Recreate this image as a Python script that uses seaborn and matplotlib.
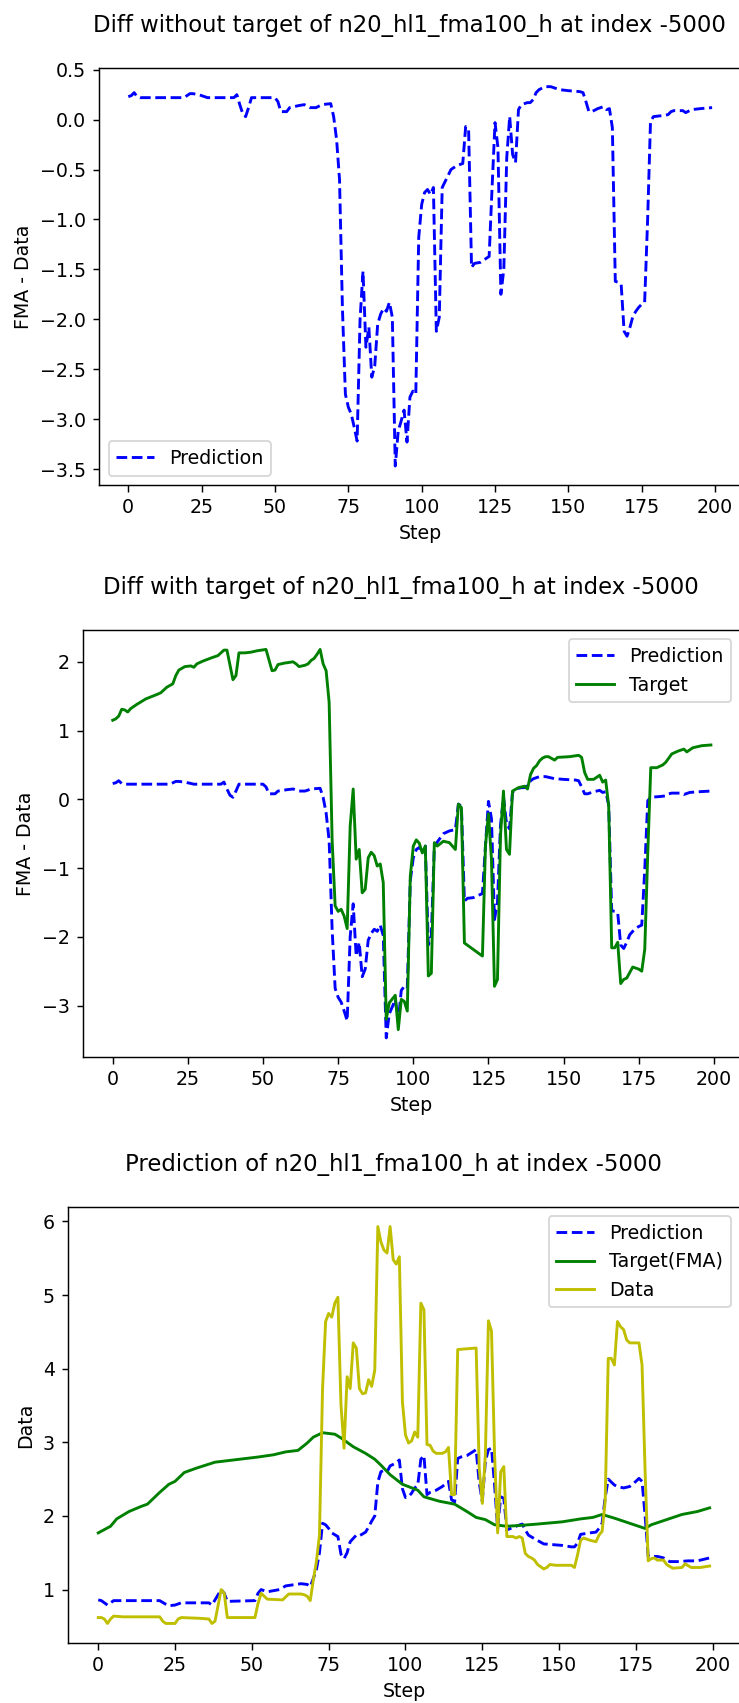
import matplotlib
matplotlib.use("Agg")
import matplotlib.pyplot as plt
import seaborn as sns
import numpy as np

# ---------------- data ----------------
pred_diff_steps = [0, 1, 2, 3, 4, 19, 21, 22, 24, 26, 27, 36, 37, 38, 39, 40, 41, 42, 50, 51,
                   52, 54, 55, 58, 60, 62, 64, 66, 69, 70, 71, 72, 73, 74, 75, 76, 77, 78, 79, 80,
                   81, 82, 83, 84, 85, 86, 87, 88, 89, 90, 91, 92, 93, 94, 95, 96, 97, 98, 99, 100,
                   101, 102, 103, 104, 105, 106, 107, 108, 110, 112, 114, 115, 116, 117, 118, 120, 123, 124, 125, 126,
                   127, 128, 129, 130, 131, 132, 133, 134, 136, 137, 138, 139, 140, 142, 144, 145, 147, 150, 154, 155,
                   156, 157, 158, 160, 162, 163, 164, 165, 166, 167, 168, 169, 170, 171, 172, 173, 174, 175, 176, 177,
                   178, 179, 182, 184, 185, 186, 189, 190, 192, 195, 199]
pred_diff_vals = [0.23, 0.24, 0.27, 0.23, 0.22, 0.22, 0.26, 0.26, 0.25, 0.23, 0.22, 0.22, 0.25, 0.15, 0.06, 0.03, 0.12, 0.22, 0.22, 0.18,
                  0.08, 0.08, 0.12, 0.14, 0.15, 0.12, 0.12, 0.15, 0.16, 0.03, -0.20, -0.60, -1.90, -2.75, -2.88, -2.95, -3.08, -3.22, -2.00, -1.52,
                  -2.28, -2.08, -2.58, -2.47, -2.05, -1.95, -1.89, -1.92, -1.83, -1.98, -3.47, -3.12, -3.02, -2.91, -3.23, -2.78, -2.72, -2.75, -1.18, -0.85,
                  -0.73, -0.70, -0.75, -0.68, -2.12, -1.98, -0.68, -0.62, -0.50, -0.46, -0.44, -0.07, -0.10, -1.48, -1.44, -1.43, -1.37, -0.68, -0.03, -0.28,
                  -1.75, -1.50, -0.38, 0.03, -0.35, -0.43, 0.10, 0.15, 0.17, 0.17, 0.20, 0.27, 0.30, 0.33, 0.33, 0.32, 0.30, 0.29, 0.28, 0.27,
                  0.18, 0.08, 0.08, 0.11, 0.13, 0.10, 0.11, -0.08, -1.62, -1.63, -1.65, -2.12, -2.17, -2.08, -1.97, -1.92, -1.88, -1.85, -1.83, -1.02,
                  -0.02, 0.03, 0.04, 0.05, 0.08, 0.09, 0.09, 0.07, 0.10, 0.11, 0.12]

target_diff_steps = [0, 1, 2, 3, 4, 5, 6, 8, 11, 15, 16, 18, 20, 21, 22, 24, 26, 27, 28, 30,
                     33, 35, 36, 37, 38, 40, 41, 42, 44, 46, 48, 51, 53, 54, 55, 57, 60, 61, 62, 64,
                     65, 66, 67, 68, 69, 70, 71, 72, 73, 74, 75, 76, 77, 78, 79, 80, 81, 82, 83, 84,
                     85, 86, 87, 88, 89, 90, 91, 92, 94, 95, 96, 97, 98, 99, 100, 101, 102, 103, 104, 105,
                     106, 107, 108, 110, 112, 114, 115, 116, 117, 123, 124, 125, 126, 127, 128, 129, 130, 131, 132, 133,
                     135, 137, 138, 139, 140, 141, 142, 143, 144, 145, 147, 148, 152, 155, 156, 157, 158, 160, 162, 163,
                     164, 165, 166, 167, 168, 169, 170, 171, 173, 175, 176, 177, 178, 179, 181, 183, 184, 186, 188, 190,
                     191, 193, 196, 199]
target_diff_vals = [1.15, 1.17, 1.21, 1.31, 1.30, 1.27, 1.32, 1.38, 1.46, 1.53, 1.55, 1.63, 1.68, 1.80, 1.88, 1.93, 1.94, 1.92, 1.97, 2.01,
                    2.06, 2.09, 2.13, 2.17, 2.17, 1.74, 1.80, 2.13, 2.13, 2.14, 2.16, 2.18, 1.87, 1.88, 1.96, 1.98, 2.00, 1.97, 1.93, 1.95,
                    1.97, 2.02, 2.05, 2.11, 2.18, 1.97, 1.87, 1.41, -0.60, -1.55, -1.63, -1.60, -1.70, -1.88, -0.39, 0.15, -0.87, -0.73, -1.36, -1.31,
                    -0.85, -0.77, -0.82, -0.97, -0.94, -1.21, -3.20, -2.96, -2.85, -3.35, -2.91, -2.94, -3.08, -1.12, -0.68, -0.59, -0.64, -0.78, -0.68, -2.57,
                    -2.53, -0.63, -0.68, -0.61, -0.63, -0.73, -0.07, -0.12, -2.09, -2.28, -0.68, -0.21, -0.87, -2.72, -2.62, -0.53, 0.12, -0.73, -0.80, 0.12,
                    0.17, 0.19, 0.15, 0.36, 0.45, 0.49, 0.56, 0.60, 0.62, 0.62, 0.57, 0.61, 0.62, 0.64, 0.61, 0.39, 0.29, 0.29, 0.35, 0.25,
                    0.28, -0.10, -2.16, -2.16, -2.08, -2.68, -2.62, -2.60, -2.44, -2.47, -2.50, -2.18, -0.78, 0.46, 0.46, 0.50, 0.54, 0.66, 0.70, 0.73,
                    0.69, 0.75, 0.78, 0.79]

data_steps = [0, 1, 2, 3, 4, 5, 8, 20, 21, 22, 25, 26, 27, 33, 36, 37, 38, 40, 41, 42,
              51, 52, 53, 55, 60, 62, 66, 67, 68, 69, 70, 71, 72, 73, 74, 75, 76, 77, 78, 79,
              80, 81, 82, 83, 84, 85, 86, 87, 88, 89, 90, 91, 92, 93, 94, 95, 96, 97, 98, 99,
              100, 101, 102, 103, 104, 105, 106, 107, 108, 109, 110, 112, 113, 114, 115, 116, 117, 120, 123, 124,
              125, 126, 127, 128, 129, 130, 131, 132, 133, 135, 136, 137, 138, 139, 140, 141, 142, 143, 144, 145,
              146, 147, 149, 154, 155, 156, 157, 158, 160, 162, 163, 164, 165, 166, 167, 168, 169, 170, 171, 172,
              173, 176, 177, 178, 179, 180, 181, 182, 184, 185, 187, 190, 191, 193, 196, 199]
data_vals = [0.62, 0.62, 0.60, 0.54, 0.60, 0.64, 0.63, 0.63, 0.57, 0.54, 0.54, 0.60, 0.62, 0.61, 0.60, 0.54, 0.57, 1.00, 0.95, 0.62,
             0.62, 0.81, 0.95, 0.87, 0.86, 0.94, 0.94, 0.93, 0.91, 0.85, 1.13, 1.38, 1.74, 3.73, 4.64, 4.75, 4.70, 4.89, 4.97, 3.51,
             2.92, 3.89, 3.73, 4.35, 4.28, 3.73, 3.66, 3.67, 3.85, 3.76, 3.98, 5.93, 5.72, 5.61, 5.57, 5.93, 5.48, 5.42, 5.52, 3.55,
             3.10, 2.99, 3.02, 3.14, 3.07, 4.89, 4.80, 2.97, 2.96, 2.88, 2.85, 2.85, 2.87, 2.93, 2.29, 2.29, 4.26, 4.27, 4.28, 2.65,
             2.17, 2.83, 4.65, 4.51, 2.83, 1.77, 2.60, 2.67, 1.72, 1.72, 1.70, 1.72, 1.70, 1.49, 1.45, 1.43, 1.40, 1.34, 1.31, 1.28,
             1.30, 1.34, 1.33, 1.33, 1.30, 1.47, 1.67, 1.70, 1.67, 1.65, 1.74, 1.79, 2.20, 4.14, 4.14, 4.05, 4.64, 4.57, 4.53, 4.39,
             4.35, 4.35, 4.05, 2.60, 1.39, 1.42, 1.43, 1.40, 1.40, 1.34, 1.29, 1.30, 1.35, 1.30, 1.30, 1.32]

fma_steps = [0, 4, 6, 10, 14, 16, 20, 23, 25, 28, 32, 38, 46, 52, 57, 61, 65, 68, 70, 73,
             77, 79, 83, 87, 90, 92, 95, 99, 104, 106, 111, 116, 120, 123, 126, 129, 133, 137, 143, 151,
             157, 161, 164, 168, 173, 178, 180, 185, 190, 195, 199]
fma_vals = [1.77, 1.86, 1.96, 2.06, 2.13, 2.16, 2.32, 2.43, 2.47, 2.59, 2.65, 2.73, 2.77, 2.80, 2.83, 2.87, 2.89, 2.99, 3.07, 3.13,
            3.11, 3.06, 2.94, 2.85, 2.77, 2.69, 2.56, 2.43, 2.35, 2.26, 2.20, 2.16, 2.06, 1.98, 1.95, 1.88, 1.86, 1.87, 1.89, 1.92,
            1.96, 1.98, 2.02, 1.97, 1.90, 1.83, 1.88, 1.95, 2.02, 2.06, 2.11]

pred_steps = [0, 1, 2, 3, 5, 20, 22, 23, 25, 27, 36, 37, 38, 40, 41, 42, 51, 52, 53, 55,
              59, 61, 66, 68, 69, 70, 71, 72, 73, 74, 75, 76, 78, 79, 80, 81, 82, 84, 85, 87,
              88, 89, 90, 91, 92, 93, 94, 95, 96, 97, 98, 99, 100, 101, 102, 103, 104, 105, 106, 107,
              108, 110, 112, 114, 115, 116, 117, 118, 120, 123, 124, 125, 126, 127, 128, 129, 130, 131, 132, 133,
              136, 138, 139, 140, 142, 145, 148, 151, 154, 155, 156, 157, 160, 162, 163, 164, 165, 166, 168, 169,
              171, 173, 175, 176, 177, 178, 179, 182, 184, 186, 189, 192, 195, 199]
pred_vals = [0.86, 0.85, 0.82, 0.79, 0.85, 0.85, 0.80, 0.78, 0.79, 0.82, 0.82, 0.79, 0.86, 1.00, 0.95, 0.84, 0.85, 0.95, 1.00, 0.97,
             1.00, 1.05, 1.08, 1.07, 1.04, 1.15, 1.27, 1.50, 1.90, 1.88, 1.83, 1.77, 1.72, 1.48, 1.42, 1.50, 1.65, 1.74, 1.73, 1.78,
             1.85, 1.93, 2.00, 2.46, 2.60, 2.62, 2.60, 2.68, 2.70, 2.72, 2.76, 2.37, 2.25, 2.26, 2.31, 2.38, 2.42, 2.77, 2.82, 2.29,
             2.32, 2.35, 2.40, 2.47, 2.22, 2.19, 2.78, 2.80, 2.82, 2.90, 2.45, 2.20, 2.74, 2.90, 2.92, 2.42, 1.83, 2.26, 2.24, 1.81,
             1.86, 1.89, 1.81, 1.74, 1.69, 1.62, 1.61, 1.60, 1.58, 1.58, 1.63, 1.75, 1.77, 1.78, 1.83, 1.90, 2.25, 2.50, 2.42, 2.40,
             2.38, 2.40, 2.47, 2.51, 2.47, 2.00, 1.45, 1.45, 1.43, 1.38, 1.38, 1.39, 1.39, 1.43]

name = "n20_hl1_fma100_h"
idx = -5000
titles = [f"Diff without target of {name} at index {idx}",
          f"Diff with target of {name} at index {idx}",
          f"Prediction of {name} at index {idx}"]

# ---------------- style ----------------
plt.rcParams["font.size"] = 10.5
plt.rcParams["lines.linewidth"] = 1.6
plt.rcParams["xtick.major.size"] = 3.6
plt.rcParams["ytick.major.size"] = 3.6

# ---------------- figure ----------------
W, H, DPI = 739, 1703, 130
fig = plt.figure(figsize=(W / DPI, H / DPI), dpi=DPI)


def add_ax(left, right, top, bottom):
    return fig.add_axes([left / W, 1 - bottom / H, (right - left) / W, (bottom - top) / H])


ax1 = add_ax(99.1, 741.3, 67.7, 485.0)
ax2 = add_ax(82.8, 740.8, 630.0, 1057.3)
ax3 = add_ax(67.7, 740.2, 1206.7, 1643.3)

TITLE_PAD = 20

# Panel 1
sns.lineplot(x=pred_diff_steps, y=pred_diff_vals, ax=ax1, color="b", linestyle="--", label="Prediction")
ax1.set_title(titles[0], x=0.484, pad=TITLE_PAD)
ax1.set_xlabel("Step")
ax1.set_ylabel("FMA - Data")
ax1.legend(loc="lower left")

# Panel 2
sns.lineplot(x=pred_diff_steps, y=pred_diff_vals, ax=ax2, color="b", linestyle="--", label="Prediction")
sns.lineplot(x=target_diff_steps, y=target_diff_vals, ax=ax2, color="g", label="Target")
ax2.set_title(titles[1], x=0.4835, pad=TITLE_PAD)
ax2.set_xlabel("Step")
ax2.set_ylabel("FMA - Data")
ax2.legend(loc="upper right")

# Panel 3
sns.lineplot(x=pred_steps, y=pred_vals, ax=ax3, color="b", linestyle="--", label="Prediction")
sns.lineplot(x=fma_steps, y=fma_vals, ax=ax3, color="g", label="Target(FMA)")
sns.lineplot(x=data_steps, y=data_vals, ax=ax3, color="y", label="Data")
ax3.set_title(titles[2], x=0.4845, pad=TITLE_PAD)
ax3.set_xlabel("Step")
ax3.set_ylabel("Data")
ax3.legend(loc="upper right")

for ax in (ax1, ax2, ax3):
    ax.set_xticks([0, 25, 50, 75, 100, 125, 150, 175, 200])

fig.savefig("out.png", dpi=DPI)
